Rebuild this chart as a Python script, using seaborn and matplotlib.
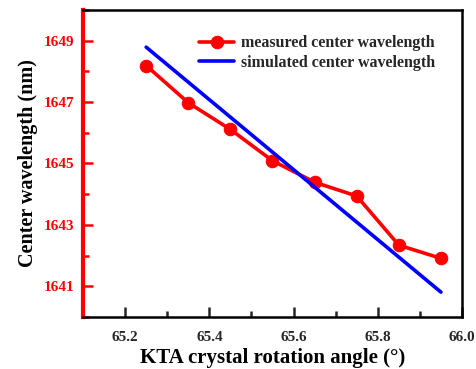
import matplotlib
matplotlib.use("Agg")
import matplotlib.pyplot as plt
from matplotlib.ticker import MultipleLocator
import seaborn as sns
import pandas as pd

angles = [65.25, 65.35, 65.45, 65.55, 65.65, 65.75, 65.85, 65.95]
measured = [1648.19, 1646.98, 1646.11, 1645.09, 1644.39, 1643.94, 1642.34, 1641.91]
simulated = [1648.79, 1647.65, 1646.51, 1645.37, 1644.23, 1643.09, 1641.95, 1640.81]
x_ticks = [65.2, 65.4, 65.6, 65.8, 66.0]
y_ticks = [1641, 1643, 1645, 1647, 1649]

sns.set_theme(style="white")
plt.rcParams['font.family'] = ['Liberation Serif', 'DejaVu Serif']
plt.rcParams['font.weight'] = 'bold'

df = pd.DataFrame({"angle": angles, "measured": measured, "simulated": simulated})

fig = plt.figure(figsize=(4.77, 3.69), dpi=100)
ax = fig.add_axes([83/477, 1-317/369, (462-83)/477, (317-10)/369])

sns.lineplot(data=df, x="angle", y="measured", ax=ax, color="#ff0000", lw=2.6,
             marker="o", markersize=9, markeredgecolor="#ff0000",
             label="measured center wavelength")
sns.lineplot(data=df, x="angle", y="simulated", ax=ax, color="#0000ff", lw=2.6,
             label="simulated center wavelength")

ax.set_xlim(65.1, 66.0)
ax.set_ylim(1640, 1650)
ax.set_xticks(x_ticks)
ax.set_xticklabels([f"{v:.1f}" for v in x_ticks])
ax.set_yticks(y_ticks)
ax.set_yticklabels([str(v) for v in y_ticks])
ax.xaxis.set_minor_locator(MultipleLocator(0.1))
ax.yaxis.set_minor_locator(MultipleLocator(1))

ax.tick_params(axis="x", which="major", pad=10)
ax.tick_params(axis="y", which="major", pad=6)
ax.tick_params(axis="both", which="major", direction="in", length=7, width=1.8,
               labelsize=11, bottom=True, left=True, top=False, right=False)
ax.tick_params(axis="both", which="minor", direction="in", length=4, width=1.8,
               bottom=True, left=True, top=False, right=False)
ax.tick_params(axis="y", which="both", colors="#ff0000")
ax.tick_params(axis="y", labelcolor="#ff0000")
for lab in ax.get_xticklabels() + ax.get_yticklabels():
    lab.set_fontweight("bold")

for side in ["top", "right", "bottom"]:
    ax.spines[side].set_color("black")
    ax.spines[side].set_linewidth(1.8)
ax.spines["left"].set_color("#ff0000")
ax.spines["left"].set_linewidth(3)

ax.set_xlabel("KTA crystal rotation angle (°)", fontsize=15, fontweight="bold", color="black", labelpad=3)
ax.set_ylabel("Center wavelength (nm)", fontsize=14.5, fontweight="bold", color="black", labelpad=4)

leg = ax.legend(loc="upper right", frameon=False, fontsize=11.5, handlelength=2.2,
                handletextpad=0.4, borderaxespad=0.6, labelspacing=0.22,
                bbox_to_anchor=(0.97, 0.97))
for t in leg.get_texts():
    t.set_fontweight("bold")

fig.savefig("out.png", dpi=100)
